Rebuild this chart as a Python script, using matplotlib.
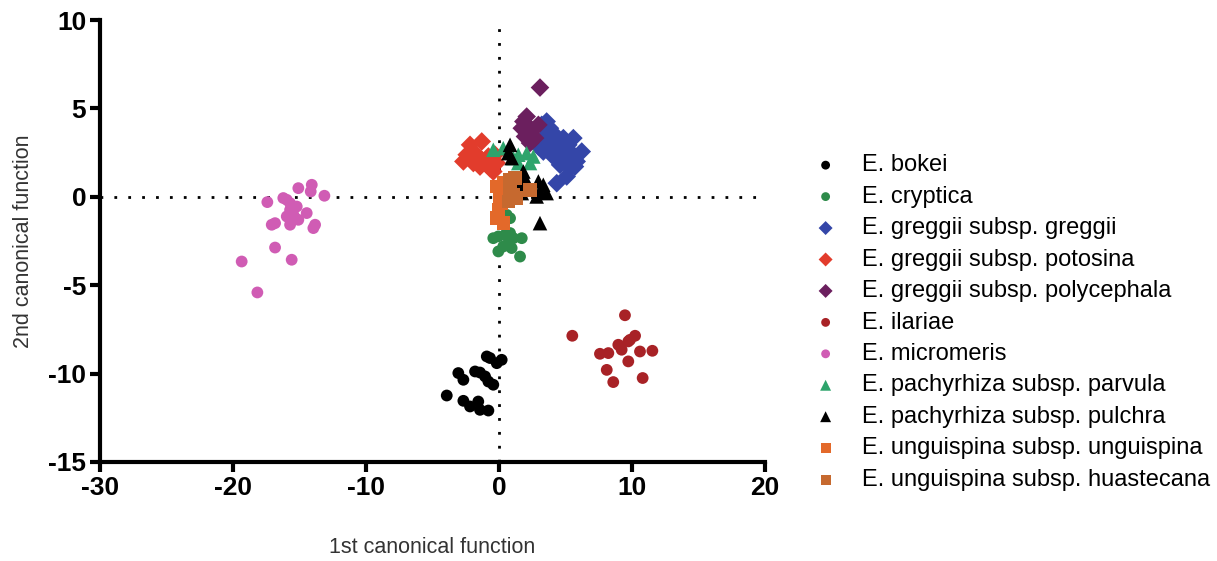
import numpy as np
import matplotlib
matplotlib.use("Agg")
import matplotlib.pyplot as plt

# species names (legend order)
species = ['E. bokei', 'E. cryptica', 'E. greggii subsp. greggii',
           'E. greggii subsp. potosina', 'E. greggii subsp. polycephala',
           'E. ilariae', 'E. micromeris', 'E. pachyrhiza subsp. parvula',
           'E. pachyrhiza subsp. pulchra', 'E. unguispina subsp. unguispina',
           'E. unguispina subsp. huastecana']

# canonical scores
bokei_x = [-0.68, 0.20, -0.17, -3.06, -2.68, -1.80, -1.43, -1.05, -0.80, -0.43,
           -3.93, -2.68, -2.18, -1.56, -1.43, -0.80, -0.92]
bokei_y = [-9.12, -9.22, -9.41, -9.97, -10.35, -9.88, -9.94, -10.16, -10.45, -10.63,
           -11.24, -11.54, -11.86, -11.58, -12.05, -12.09, -9.03]

cryptica_x = [0.58, 0.83, -0.05, 0.45, 0.83, 1.08, 1.71, 0.70, 0.32, 0.95, -0.05, 1.58, -0.43]
cryptica_y = [-1.02, -1.21, -2.24, -2.15, -2.05, -2.34, -2.34, -2.62, -2.81, -2.90, -3.09, -3.38, -2.34]

greggii_x = [3.21, 3.58, 3.83, 4.08, 3.46, 4.34, 3.83, 4.84, 5.21, 4.59, 4.96, 5.59, 5.84,
             5.34, 4.08, 3.58, 6.22, 4.59, 3.33, 2.96, 4.34, 5.09, 5.71, 5.59, 4.84]
greggii_y = [4.07, 4.26, 3.88, 3.60, 3.41, 3.13, 2.85, 3.32, 2.94, 2.56, 2.19, 2.38, 2.00,
             1.62, 2.28, 2.94, 2.56, 1.81, 2.56, 2.85, 0.77, 1.15, 1.71, 3.32, 2.66]

potosina_x = [-2.18, -1.30, -2.43, -1.80, -1.30, -0.92, -0.68, -0.43, -1.93, -1.43, -2.68, -0.80, -0.30, -0.17]
potosina_y = [2.94, 3.13, 2.38, 2.47, 2.09, 1.81, 1.62, 1.43, 1.91, 1.71, 2.00, 2.28, 2.38, 1.91]

polycephala_x = [3.08, 1.83, 2.08, 1.71, 2.46, 1.95, 2.33, 2.96, 2.71]
polycephala_y = [6.18, 4.26, 4.54, 3.88, 3.79, 3.41, 3.04, 4.07, 3.32]

ilariae_x = [5.51, 7.59, 8.22, 8.97, 9.22, 9.72, 10.23, 9.85, 10.60, 11.53, 9.72, 8.10, 8.59, 10.80, 9.47]
ilariae_y = [-7.86, -8.88, -8.84, -8.37, -8.65, -8.18, -7.86, -8.09, -8.75, -8.71, -9.31, -9.79, -10.48, -10.25, -6.70]

micromeris_x = [-15.09, -14.08, -14.16, -13.13, -17.42, -15.96, -15.71, -15.71, -15.46, -15.71,
                -14.46, -17.09, -16.84, -15.71, -13.96, -13.83, -16.84, -19.35, -15.59, -18.17,
                -16.22, -15.21, -15.96, -15.09]
micromeris_y = [0.49, 0.68, 0.30, 0.06, -0.30, -0.17, -0.36, -0.74, -1.02, -1.30,
                -0.92, -1.58, -1.49, -1.58, -1.77, -1.58, -2.87, -3.66, -3.56, -5.41,
                -0.07, -0.55, -1.11, -1.30]

parvula_x = [-0.43, 0.32, 1.45, 2.08, 2.58, 1.45, 2.33, 1.08]
parvula_y = [2.66, 2.75, 2.38, 2.47, 2.28, 1.91, 1.91, 2.19]

pulchra_x = [1.83, 1.95, 1.58, 1.95, 1.71, 2.96, 3.33, 3.08, 2.83, 3.58, 3.08, 0.83, 0.70, 0.95]
pulchra_y = [1.43, 1.06, 0.77, 0.58, 0.21, 0.87, 0.68, 0.30, 0.02, 0.21, -1.49, 2.94, 2.47, 2.19]

unguispina_x = [-0.17, 0.32, 0.58, 0.08, 0.20, -0.05, -0.17, 0.32]
unguispina_y = [0.58, 0.77, 0.30, 0.02, -0.36, -0.74, -1.21, -1.49]

huastecana_x = [0.83, 0.83, 1.08, 0.70, 1.33, 1.20, 2.33]
huastecana_y = [0.96, 0.49, 0.11, -0.27, -0.07, 1.06, 0.40]

xs = [bokei_x, cryptica_x, greggii_x, potosina_x, polycephala_x, ilariae_x,
      micromeris_x, parvula_x, pulchra_x, unguispina_x, huastecana_x]
ys = [bokei_y, cryptica_y, greggii_y, potosina_y, polycephala_y, ilariae_y,
      micromeris_y, parvula_y, pulchra_y, unguispina_y, huastecana_y]

colors = ['#000000', '#2e8b4a', '#3446a8', '#e23c2c', '#6b1f5e', '#a82226',
          '#d05cb4', '#2ea46c', '#000000', '#e3692a', '#c6692f']
markers = ['o', 'o', 'D', 'D', 'D', 'o', 'o', '^', '^', 's', 's']
sizes = [72, 72, 90, 90, 90, 72, 72, 110, 110, 95, 95]

plt.rcParams['font.family'] = ['Liberation Sans', 'DejaVu Sans']
plt.rcParams['axes.unicode_minus'] = False

fig = plt.figure(figsize=(12.17, 5.61), dpi=100)
ax = fig.add_axes([0.0822, 0.1765, 0.5464, 0.7878])

ax.axhline(0, color='black', lw=2, ls=(0, (1, 4)), zorder=1)
ax.axvline(0, color='black', lw=2, ls=(0, (1, 4)), zorder=1)

for i in range(len(species)):
    ax.scatter(xs[i], ys[i], s=sizes[i], marker=markers[i], c=colors[i],
               edgecolors='none', label=species[i], zorder=2)

ax.set_xlim(-30, 20)
ax.set_ylim(-15, 10)
ax.set_xticks([-30, -20, -10, 0, 10, 20])
ax.set_yticks([-15, -10, -5, 0, 5, 10])

for side in ['top', 'right']:
    ax.spines[side].set_visible(False)
for side in ['left', 'bottom']:
    ax.spines[side].set_linewidth(3)
ax.tick_params(width=3, length=7, labelsize=19, pad=3)
for lab in ax.get_xticklabels() + ax.get_yticklabels():
    lab.set_fontweight('bold')

ax.set_xlabel('1st canonical function', fontsize=15.5, color='#333333', labelpad=27)
ax.set_ylabel('2nd canonical function', fontsize=15.5, color='#333333', labelpad=10)

fig.legend(loc='center left', bbox_to_anchor=(0.659, 0.425), frameon=False,
           fontsize=17, labelspacing=0.40, handletextpad=0.55, borderpad=0,
           borderaxespad=0, scatterpoints=1, markerscale=0.75)

fig.savefig('out.png', dpi=100)
